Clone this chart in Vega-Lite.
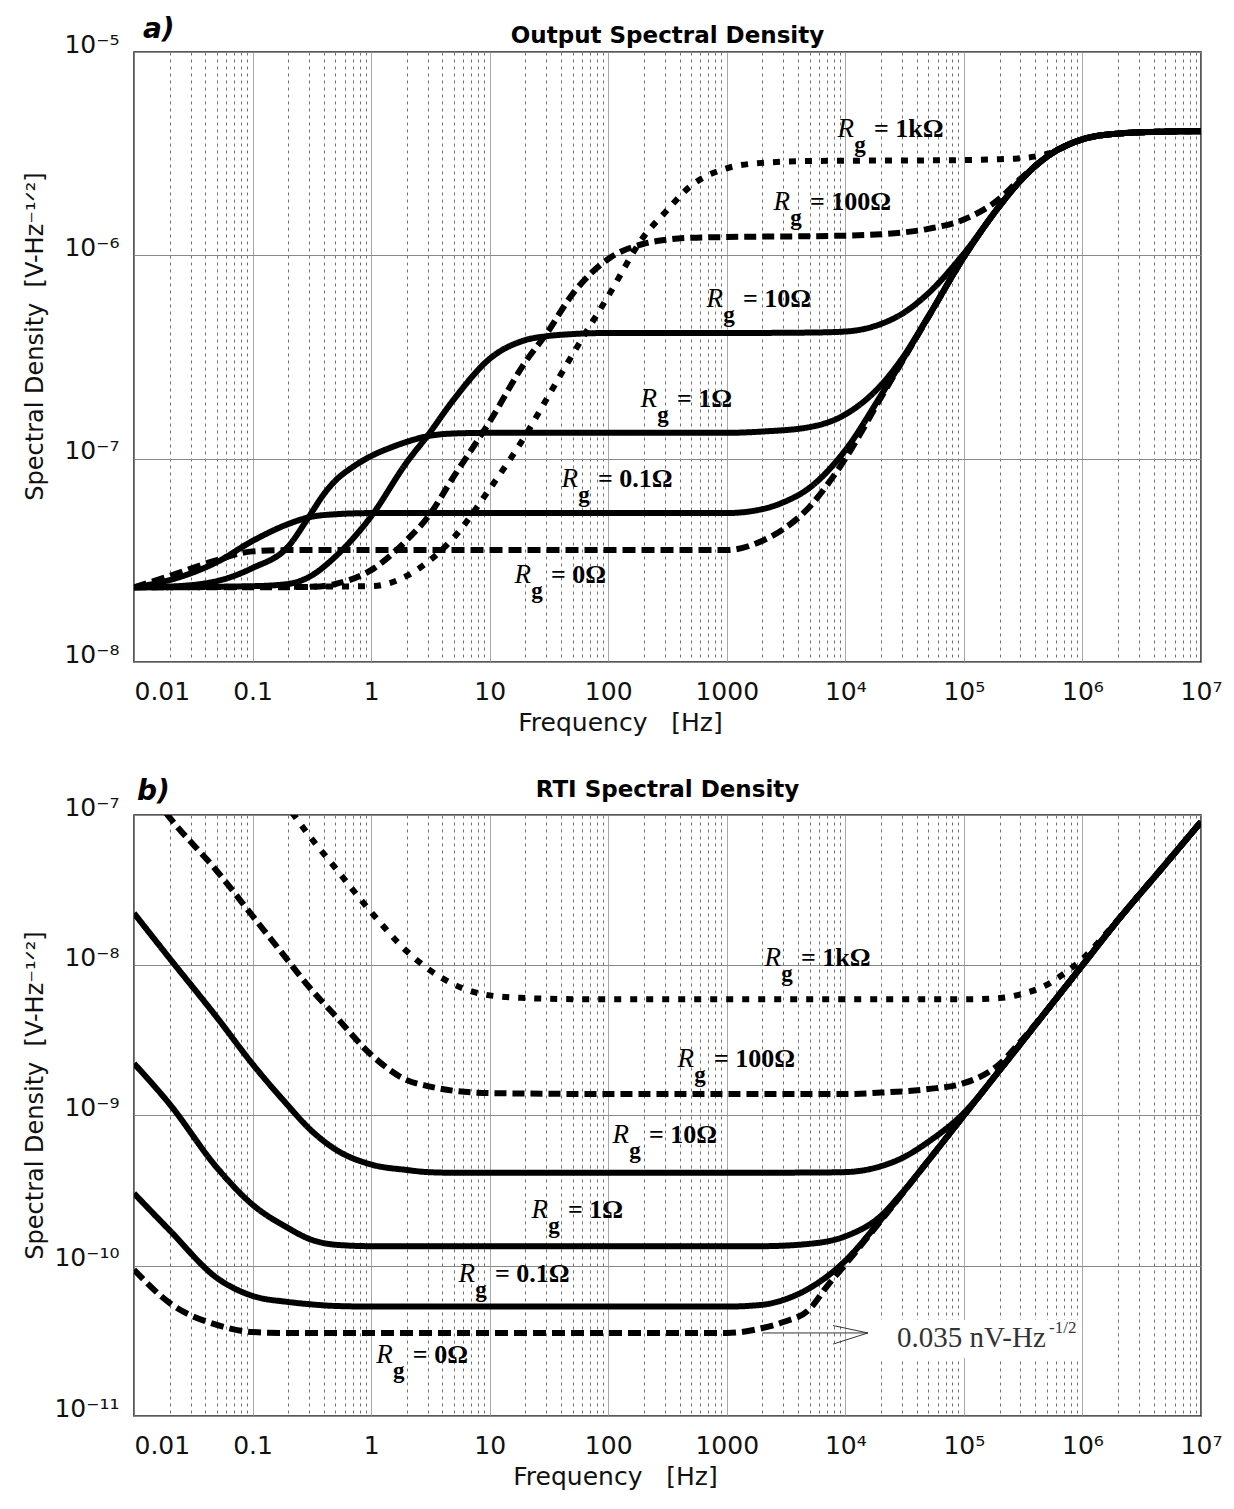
{
  "$schema": "https://vega.github.io/schema/vega-lite/v6.json",
  "background": "white",
  "padding": {"left": 22, "top": 15, "right": 10, "bottom": 5},
  "spacing": 41,
  "datasets": {
    "curves": [
      {"p":"a","rg":"0","f":0.01,"v":2.33e-8},{"p":"a","rg":"0","f":0.02,"v":2.65e-8},{"p":"a","rg":"0","f":0.05,"v":3.17e-8},{"p":"a","rg":"0","f":0.1,"v":3.5e-8},{"p":"a","rg":"0","f":0.2,"v":3.55e-8},{"p":"a","rg":"0","f":1,"v":3.55e-8},{"p":"a","rg":"0","f":10,"v":3.55e-8},{"p":"a","rg":"0","f":100,"v":3.55e-8},{"p":"a","rg":"0","f":1000,"v":3.55e-8},{"p":"a","rg":"0","f":2000,"v":3.95e-8},{"p":"a","rg":"0","f":3000,"v":4.5e-8},{"p":"a","rg":"0","f":5000,"v":5.8e-8},{"p":"a","rg":"0","f":7000,"v":7.4e-8},{"p":"a","rg":"0","f":10000,"v":1.0e-7},{"p":"a","rg":"0","f":20000,"v":2.0e-7},{"p":"a","rg":"0","f":50000,"v":4.95e-7},{"p":"a","rg":"0","f":100000,"v":9.8e-7},{"p":"a","rg":"0","f":200000,"v":1.75e-6},{"p":"a","rg":"0","f":300000,"v":2.33e-6},{"p":"a","rg":"0","f":500000,"v":3.05e-6},{"p":"a","rg":"0","f":1000000,"v":3.72e-6},{"p":"a","rg":"0","f":2000000,"v":3.97e-6},{"p":"a","rg":"0","f":5000000,"v":4.06e-6},{"p":"a","rg":"0","f":10000000,"v":4.08e-6},

      {"p":"a","rg":"0.1","f":0.01,"v":2.33e-8},{"p":"a","rg":"0.1","f":0.02,"v":2.53e-8},{"p":"a","rg":"0.1","f":0.05,"v":3.1e-8},{"p":"a","rg":"0.1","f":0.1,"v":3.94e-8},{"p":"a","rg":"0.1","f":0.2,"v":4.77e-8},{"p":"a","rg":"0.1","f":0.3,"v":5.15e-8},{"p":"a","rg":"0.1","f":0.5,"v":5.33e-8},{"p":"a","rg":"0.1","f":1,"v":5.4e-8},{"p":"a","rg":"0.1","f":10,"v":5.4e-8},{"p":"a","rg":"0.1","f":100,"v":5.4e-8},{"p":"a","rg":"0.1","f":1000,"v":5.4e-8},{"p":"a","rg":"0.1","f":2000,"v":5.65e-8},{"p":"a","rg":"0.1","f":3000,"v":6.1e-8},{"p":"a","rg":"0.1","f":5000,"v":7.2e-8},{"p":"a","rg":"0.1","f":10000,"v":1.1e-7},{"p":"a","rg":"0.1","f":20000,"v":2.05e-7},{"p":"a","rg":"0.1","f":50000,"v":4.97e-7},{"p":"a","rg":"0.1","f":100000,"v":9.8e-7},{"p":"a","rg":"0.1","f":200000,"v":1.75e-6},{"p":"a","rg":"0.1","f":300000,"v":2.33e-6},{"p":"a","rg":"0.1","f":500000,"v":3.05e-6},{"p":"a","rg":"0.1","f":1000000,"v":3.72e-6},{"p":"a","rg":"0.1","f":2000000,"v":3.97e-6},{"p":"a","rg":"0.1","f":5000000,"v":4.06e-6},{"p":"a","rg":"0.1","f":10000000,"v":4.08e-6},

      {"p":"a","rg":"1","f":0.01,"v":2.33e-8},{"p":"a","rg":"1","f":0.02,"v":2.35e-8},{"p":"a","rg":"1","f":0.05,"v":2.5e-8},{"p":"a","rg":"1","f":0.1,"v":2.9e-8},{"p":"a","rg":"1","f":0.2,"v":3.7e-8},{"p":"a","rg":"1","f":0.3,"v":5.2e-8},{"p":"a","rg":"1","f":0.4,"v":6.7e-8},{"p":"a","rg":"1","f":0.5,"v":7.8e-8},{"p":"a","rg":"1","f":0.7,"v":9.1e-8},{"p":"a","rg":"1","f":1,"v":1.03e-7},{"p":"a","rg":"1","f":1.5,"v":1.14e-7},{"p":"a","rg":"1","f":2,"v":1.21e-7},{"p":"a","rg":"1","f":3,"v":1.29e-7},{"p":"a","rg":"1","f":5,"v":1.33e-7},{"p":"a","rg":"1","f":10,"v":1.34e-7},{"p":"a","rg":"1","f":100,"v":1.34e-7},{"p":"a","rg":"1","f":1000,"v":1.34e-7},{"p":"a","rg":"1","f":2000,"v":1.36e-7},{"p":"a","rg":"1","f":5000,"v":1.43e-7},{"p":"a","rg":"1","f":10000,"v":1.65e-7},{"p":"a","rg":"1","f":20000,"v":2.3e-7},{"p":"a","rg":"1","f":30000,"v":3.1e-7},{"p":"a","rg":"1","f":50000,"v":5.0e-7},{"p":"a","rg":"1","f":100000,"v":9.8e-7},{"p":"a","rg":"1","f":200000,"v":1.75e-6},{"p":"a","rg":"1","f":300000,"v":2.33e-6},{"p":"a","rg":"1","f":500000,"v":3.05e-6},{"p":"a","rg":"1","f":1000000,"v":3.72e-6},{"p":"a","rg":"1","f":2000000,"v":3.97e-6},{"p":"a","rg":"1","f":5000000,"v":4.06e-6},{"p":"a","rg":"1","f":10000000,"v":4.08e-6},

      {"p":"a","rg":"10","f":0.01,"v":2.33e-8},{"p":"a","rg":"10","f":0.1,"v":2.36e-8},{"p":"a","rg":"10","f":0.2,"v":2.42e-8},{"p":"a","rg":"10","f":0.3,"v":2.62e-8},{"p":"a","rg":"10","f":0.5,"v":3.3e-8},{"p":"a","rg":"10","f":1,"v":5.2e-8},{"p":"a","rg":"10","f":2,"v":9.6e-8},{"p":"a","rg":"10","f":3,"v":1.3e-7},{"p":"a","rg":"10","f":5,"v":1.96e-7},{"p":"a","rg":"10","f":10,"v":3.1e-7},{"p":"a","rg":"10","f":20,"v":3.83e-7},{"p":"a","rg":"10","f":30,"v":4.0e-7},{"p":"a","rg":"10","f":50,"v":4.1e-7},{"p":"a","rg":"10","f":100,"v":4.15e-7},{"p":"a","rg":"10","f":1000,"v":4.15e-7},{"p":"a","rg":"10","f":5000,"v":4.17e-7},{"p":"a","rg":"10","f":10000,"v":4.22e-7},{"p":"a","rg":"10","f":20000,"v":4.6e-7},{"p":"a","rg":"10","f":30000,"v":5.15e-7},{"p":"a","rg":"10","f":50000,"v":6.5e-7},{"p":"a","rg":"10","f":100000,"v":1.02e-6},{"p":"a","rg":"10","f":200000,"v":1.75e-6},{"p":"a","rg":"10","f":300000,"v":2.33e-6},{"p":"a","rg":"10","f":500000,"v":3.05e-6},{"p":"a","rg":"10","f":1000000,"v":3.72e-6},{"p":"a","rg":"10","f":2000000,"v":3.97e-6},{"p":"a","rg":"10","f":5000000,"v":4.06e-6},{"p":"a","rg":"10","f":10000000,"v":4.08e-6},

      {"p":"a","rg":"100","f":0.01,"v":2.33e-8},{"p":"a","rg":"100","f":0.1,"v":2.33e-8},{"p":"a","rg":"100","f":0.3,"v":2.34e-8},{"p":"a","rg":"100","f":0.5,"v":2.42e-8},{"p":"a","rg":"100","f":1,"v":2.83e-8},{"p":"a","rg":"100","f":2,"v":3.98e-8},{"p":"a","rg":"100","f":3,"v":5.15e-8},{"p":"a","rg":"100","f":5,"v":8.2e-8},{"p":"a","rg":"100","f":10,"v":1.52e-7},{"p":"a","rg":"100","f":20,"v":2.99e-7},{"p":"a","rg":"100","f":30,"v":4.1e-7},{"p":"a","rg":"100","f":50,"v":6.45e-7},{"p":"a","rg":"100","f":100,"v":9.6e-7},{"p":"a","rg":"100","f":200,"v":1.14e-6},{"p":"a","rg":"100","f":300,"v":1.19e-6},{"p":"a","rg":"100","f":500,"v":1.22e-6},{"p":"a","rg":"100","f":1000,"v":1.23e-6},{"p":"a","rg":"100","f":10000,"v":1.25e-6},{"p":"a","rg":"100","f":20000,"v":1.27e-6},{"p":"a","rg":"100","f":50000,"v":1.35e-6},{"p":"a","rg":"100","f":100000,"v":1.5e-6},{"p":"a","rg":"100","f":200000,"v":1.9e-6},{"p":"a","rg":"100","f":300000,"v":2.38e-6},{"p":"a","rg":"100","f":500000,"v":3.05e-6},{"p":"a","rg":"100","f":1000000,"v":3.72e-6},{"p":"a","rg":"100","f":2000000,"v":3.97e-6},{"p":"a","rg":"100","f":5000000,"v":4.06e-6},{"p":"a","rg":"100","f":10000000,"v":4.08e-6},

      {"p":"a","rg":"1k","f":0.01,"v":2.33e-8},{"p":"a","rg":"1k","f":1,"v":2.36e-8},{"p":"a","rg":"1k","f":2,"v":2.65e-8},{"p":"a","rg":"1k","f":3,"v":3.1e-8},{"p":"a","rg":"1k","f":5,"v":4.1e-8},{"p":"a","rg":"1k","f":10,"v":7.1e-8},{"p":"a","rg":"1k","f":20,"v":1.3e-7},{"p":"a","rg":"1k","f":30,"v":1.95e-7},{"p":"a","rg":"1k","f":50,"v":3.25e-7},{"p":"a","rg":"1k","f":100,"v":6.3e-7},{"p":"a","rg":"1k","f":200,"v":1.24e-6},{"p":"a","rg":"1k","f":300,"v":1.62e-6},{"p":"a","rg":"1k","f":500,"v":2.2e-6},{"p":"a","rg":"1k","f":1000,"v":2.68e-6},{"p":"a","rg":"1k","f":2000,"v":2.85e-6},{"p":"a","rg":"1k","f":5000,"v":2.91e-6},{"p":"a","rg":"1k","f":100000,"v":2.94e-6},{"p":"a","rg":"1k","f":200000,"v":2.97e-6},{"p":"a","rg":"1k","f":300000,"v":3.0e-6},{"p":"a","rg":"1k","f":500000,"v":3.15e-6},{"p":"a","rg":"1k","f":1000000,"v":3.72e-6},{"p":"a","rg":"1k","f":2000000,"v":3.97e-6},{"p":"a","rg":"1k","f":5000000,"v":4.06e-6},{"p":"a","rg":"1k","f":10000000,"v":4.08e-6},

      {"p":"b","rg":"0","f":0.01,"v":9.4e-11},{"p":"b","rg":"0","f":0.02,"v":5.65e-11},{"p":"b","rg":"0","f":0.05,"v":4.04e-11},{"p":"b","rg":"0","f":0.1,"v":3.62e-11},{"p":"b","rg":"0","f":0.2,"v":3.57e-11},{"p":"b","rg":"0","f":1,"v":3.57e-11},{"p":"b","rg":"0","f":100,"v":3.57e-11},{"p":"b","rg":"0","f":1000,"v":3.57e-11},{"p":"b","rg":"0","f":2000,"v":3.85e-11},{"p":"b","rg":"0","f":3000,"v":4.22e-11},{"p":"b","rg":"0","f":5000,"v":5.15e-11},{"p":"b","rg":"0","f":7000,"v":7.3e-11},{"p":"b","rg":"0","f":10000,"v":1.02e-10},{"p":"b","rg":"0","f":20000,"v":2.0e-10},{"p":"b","rg":"0","f":50000,"v":5.0e-10},{"p":"b","rg":"0","f":100000,"v":1.0e-9},{"p":"b","rg":"0","f":200000,"v":2.0e-9},{"p":"b","rg":"0","f":500000,"v":5.0e-9},{"p":"b","rg":"0","f":1000000,"v":1.0e-8},{"p":"b","rg":"0","f":2000000,"v":2.0e-8},{"p":"b","rg":"0","f":5000000,"v":4.7e-8},{"p":"b","rg":"0","f":10000000,"v":9.0e-8},

      {"p":"b","rg":"0.1","f":0.01,"v":3.03e-10},{"p":"b","rg":"0.1","f":0.02,"v":1.72e-10},{"p":"b","rg":"0.1","f":0.05,"v":8.3e-11},{"p":"b","rg":"0.1","f":0.1,"v":6.3e-11},{"p":"b","rg":"0.1","f":0.2,"v":5.74e-11},{"p":"b","rg":"0.1","f":0.3,"v":5.55e-11},{"p":"b","rg":"0.1","f":0.5,"v":5.4e-11},{"p":"b","rg":"0.1","f":1,"v":5.35e-11},{"p":"b","rg":"0.1","f":1000,"v":5.35e-11},{"p":"b","rg":"0.1","f":2000,"v":5.5e-11},{"p":"b","rg":"0.1","f":3000,"v":5.92e-11},{"p":"b","rg":"0.1","f":5000,"v":7.1e-11},{"p":"b","rg":"0.1","f":10000,"v":1.08e-10},{"p":"b","rg":"0.1","f":20000,"v":2.03e-10},{"p":"b","rg":"0.1","f":50000,"v":5.0e-10},{"p":"b","rg":"0.1","f":100000,"v":1.0e-9},{"p":"b","rg":"0.1","f":200000,"v":2.0e-9},{"p":"b","rg":"0.1","f":500000,"v":5.0e-9},{"p":"b","rg":"0.1","f":1000000,"v":1.0e-8},{"p":"b","rg":"0.1","f":2000000,"v":2.0e-8},{"p":"b","rg":"0.1","f":5000000,"v":4.7e-8},{"p":"b","rg":"0.1","f":10000000,"v":9.0e-8},

      {"p":"b","rg":"1","f":0.01,"v":2.22e-9},{"p":"b","rg":"1","f":0.02,"v":1.19e-9},{"p":"b","rg":"1","f":0.05,"v":4.5e-10},{"p":"b","rg":"1","f":0.1,"v":2.55e-10},{"p":"b","rg":"1","f":0.2,"v":1.78e-10},{"p":"b","rg":"1","f":0.3,"v":1.51e-10},{"p":"b","rg":"1","f":0.5,"v":1.38e-10},{"p":"b","rg":"1","f":1,"v":1.35e-10},{"p":"b","rg":"1","f":1000,"v":1.35e-10},{"p":"b","rg":"1","f":2000,"v":1.35e-10},{"p":"b","rg":"1","f":5000,"v":1.4e-10},{"p":"b","rg":"1","f":10000,"v":1.57e-10},{"p":"b","rg":"1","f":20000,"v":2.15e-10},{"p":"b","rg":"1","f":30000,"v":3.05e-10},{"p":"b","rg":"1","f":50000,"v":5.0e-10},{"p":"b","rg":"1","f":100000,"v":1.0e-9},{"p":"b","rg":"1","f":200000,"v":2.0e-9},{"p":"b","rg":"1","f":500000,"v":5.0e-9},{"p":"b","rg":"1","f":1000000,"v":1.0e-8},{"p":"b","rg":"1","f":2000000,"v":2.0e-8},{"p":"b","rg":"1","f":5000000,"v":4.7e-8},{"p":"b","rg":"1","f":10000000,"v":9.0e-8},

      {"p":"b","rg":"10","f":0.01,"v":2.22e-8},{"p":"b","rg":"10","f":0.02,"v":1.11e-8},{"p":"b","rg":"10","f":0.05,"v":4.5e-9},{"p":"b","rg":"10","f":0.1,"v":2.2e-9},{"p":"b","rg":"10","f":0.2,"v":1.16e-9},{"p":"b","rg":"10","f":0.3,"v":8.2e-10},{"p":"b","rg":"10","f":0.5,"v":5.95e-10},{"p":"b","rg":"10","f":1,"v":4.72e-10},{"p":"b","rg":"10","f":2,"v":4.34e-10},{"p":"b","rg":"10","f":3,"v":4.2e-10},{"p":"b","rg":"10","f":5,"v":4.16e-10},{"p":"b","rg":"10","f":1000,"v":4.16e-10},{"p":"b","rg":"10","f":5000,"v":4.17e-10},{"p":"b","rg":"10","f":10000,"v":4.2e-10},{"p":"b","rg":"10","f":20000,"v":4.6e-10},{"p":"b","rg":"10","f":30000,"v":5.2e-10},{"p":"b","rg":"10","f":50000,"v":6.67e-10},{"p":"b","rg":"10","f":100000,"v":1.04e-9},{"p":"b","rg":"10","f":200000,"v":2.0e-9},{"p":"b","rg":"10","f":500000,"v":5.0e-9},{"p":"b","rg":"10","f":1000000,"v":1.0e-8},{"p":"b","rg":"10","f":2000000,"v":2.0e-8},{"p":"b","rg":"10","f":5000000,"v":4.7e-8},{"p":"b","rg":"10","f":10000000,"v":9.0e-8},

      {"p":"b","rg":"100","f":0.01,"v":2.0e-7},{"p":"b","rg":"100","f":0.02,"v":9.6e-8},{"p":"b","rg":"100","f":0.05,"v":4.24e-8},{"p":"b","rg":"100","f":0.1,"v":2.13e-8},{"p":"b","rg":"100","f":0.2,"v":1.07e-8},{"p":"b","rg":"100","f":0.3,"v":7.16e-9},{"p":"b","rg":"100","f":0.5,"v":4.6e-9},{"p":"b","rg":"100","f":1,"v":2.54e-9},{"p":"b","rg":"100","f":2,"v":1.72e-9},{"p":"b","rg":"100","f":3,"v":1.57e-9},{"p":"b","rg":"100","f":5,"v":1.46e-9},{"p":"b","rg":"100","f":10,"v":1.41e-9},{"p":"b","rg":"100","f":100,"v":1.39e-9},{"p":"b","rg":"100","f":10000,"v":1.39e-9},{"p":"b","rg":"100","f":20000,"v":1.42e-9},{"p":"b","rg":"100","f":50000,"v":1.5e-9},{"p":"b","rg":"100","f":100000,"v":1.64e-9},{"p":"b","rg":"100","f":200000,"v":2.2e-9},{"p":"b","rg":"100","f":300000,"v":3.1e-9},{"p":"b","rg":"100","f":500000,"v":5.0e-9},{"p":"b","rg":"100","f":1000000,"v":1.0e-8},{"p":"b","rg":"100","f":2000000,"v":2.0e-8},{"p":"b","rg":"100","f":5000000,"v":4.7e-8},{"p":"b","rg":"100","f":10000000,"v":9.0e-8},

      {"p":"b","rg":"1k","f":0.1,"v":2.24e-7},{"p":"b","rg":"1k","f":0.2,"v":1.12e-7},{"p":"b","rg":"1k","f":0.3,"v":7.3e-8},{"p":"b","rg":"1k","f":0.5,"v":4.44e-8},{"p":"b","rg":"1k","f":1,"v":2.26e-8},{"p":"b","rg":"1k","f":2,"v":1.24e-8},{"p":"b","rg":"1k","f":3,"v":9.5e-9},{"p":"b","rg":"1k","f":5,"v":7.45e-9},{"p":"b","rg":"1k","f":10,"v":6.3e-9},{"p":"b","rg":"1k","f":20,"v":6.05e-9},{"p":"b","rg":"1k","f":50,"v":5.95e-9},{"p":"b","rg":"1k","f":100,"v":5.93e-9},{"p":"b","rg":"1k","f":100000,"v":5.93e-9},{"p":"b","rg":"1k","f":200000,"v":6.05e-9},{"p":"b","rg":"1k","f":300000,"v":6.4e-9},{"p":"b","rg":"1k","f":500000,"v":7.4e-9},{"p":"b","rg":"1k","f":700000,"v":8.8e-9},{"p":"b","rg":"1k","f":1000000,"v":1.1e-8},{"p":"b","rg":"1k","f":1500000,"v":1.55e-8},{"p":"b","rg":"1k","f":2000000,"v":2.02e-8},{"p":"b","rg":"1k","f":5000000,"v":4.7e-8},{"p":"b","rg":"1k","f":10000000,"v":9.0e-8}
    ],
    "labels": [
      {"p":"a","f":17460,"v":3.82e-6,"t":"= 1kΩ"},
      {"p":"a","f":5035,"v":1.67e-6,"t":"= 100Ω"},
      {"p":"a","f":1370,"v":5.57e-7,"t":"= 10Ω"},
      {"p":"a","f":380,"v":1.79e-7,"t":"= 1Ω"},
      {"p":"a","f":82,"v":7.25e-8,"t":"= 0.1Ω"},
      {"p":"a","f":32.9,"v":2.44e-8,"t":"= 0Ω"},
      {"p":"b","f":4227,"v":9.89e-9,"t":"= 1kΩ"},
      {"p":"b","f":780,"v":2.1e-9,"t":"= 100Ω"},
      {"p":"b","f":221,"v":6.56e-10,"t":"= 10Ω"},
      {"p":"b","f":45.8,"v":2.08e-10,"t":"= 1Ω"},
      {"p":"b","f":11.1,"v":7.8e-11,"t":"= 0.1Ω"},
      {"p":"b","f":2.25,"v":2.25e-11,"t":"= 0Ω"}
    ],
    "tags": [
      {"p":"a","f":0.0119,"v":1.17e-5,"t":"a)"},
      {"p":"b","f":0.0106,"v":1.26e-7,"t":"b)"}
    ],
    "heads": [
      {"p":"a","f":316.2,"v":1.107e-5,"t":"Output Spectral Density"},
      {"p":"b","f":316.2,"v":1.318e-7,"t":"RTI Spectral Density"}
    ],
    "note": [
      {"f":27290,"v":2.88e-11,"t":"0.035 nV-Hz","s":"-1/2"}
    ],
    "notebox": [
      {"f":19600,"v":4.35e-11,"f2":970000,"v2":2.43e-11}
    ],
    "arrow": [
      {"f":2000,"v":3.57e-11,"f2":15520,"v2":3.57e-11},
      {"f":7870,"v":4.0e-11,"f2":15520,"v2":3.57e-11},
      {"f":7870,"v":3.01e-11,"f2":15520,"v2":3.57e-11}
    ]
  },
  "vconcat": [
    {
      "width": 1067,
      "height": 610,
      "layer": [
        {
          "data": {"name": "curves"},
          "transform": [{"filter": "datum.p == 'a'"}],
          "mark": {"type": "line", "clip": true, "interpolate": "monotone", "strokeWidth": 6, "color": "black"},
          "encoding": {
            "x": {
              "field": "f", "type": "quantitative",
              "scale": {"type": "log", "domain": [0.01, 10000000], "nice": false},
              "axis": {
                "values": [0.01,0.02,0.03,0.04,0.05,0.06,0.07,0.08,0.09,0.1,0.2,0.3,0.4,0.5,0.6,0.7,0.8,0.9,1,2,3,4,5,6,7,8,9,10,20,30,40,50,60,70,80,90,100,200,300,400,500,600,700,800,900,1000,2000,3000,4000,5000,6000,7000,8000,9000,10000,20000,30000,40000,50000,60000,70000,80000,90000,100000,200000,300000,400000,500000,600000,700000,800000,900000,1000000,2000000,3000000,4000000,5000000,6000000,7000000,8000000,9000000,10000000],
                "labelExpr": "abs(log(datum.value)/LN10 - round(log(datum.value)/LN10)) > 0.01 ? '' : ['0.01','0.1','1','10','100','1000','10⁴','10⁵','10⁶','10⁷'][round(log(datum.value)/LN10) + 2]",
                "labelFlush": false,
                "labelAlign": {"condition": {"test": "datum.value < 0.011", "value": "left"}, "value": "center"},
                "labelBaseline": "top",
                "labelPadding": 17,
                "title": "Frequency\u00a0\u00a0\u00a0[Hz]",
                "titleX": 486,
                "titlePadding": 6,
                "gridColor": {"condition": {"test": "abs(log(datum.value)/LN10 - round(log(datum.value)/LN10)) < 0.01", "value": "#8a8a8a"}, "value": "#707070"},
                "gridDash": {"condition": {"test": "abs(log(datum.value)/LN10 - round(log(datum.value)/LN10)) < 0.01", "value": [1, 0]}, "value": [3, 4]}
              }
            },
            "y": {
              "field": "v", "type": "quantitative",
              "scale": {"type": "log", "domain": [1e-8, 1e-5], "nice": false},
              "axis": {
                "values": [1e-8, 1e-7, 1e-6, 1e-5],
                "labelExpr": "'10' + ['⁻¹¹','⁻¹⁰','⁻⁹','⁻⁸','⁻⁷','⁻⁶','⁻⁵'][round(log(datum.value)/LN10) + 11]",
                "labelBaseline": "alphabetic",
                "labelFlush": false,
                "labelPadding": 15,
                "title": "Spectral Density\u00a0\u00a0[V-Hz⁻¹ᐟ²]",
                "titleFontSize": 24,
                "titleX": -87,
                "titleY": 284,
                "gridColor": "#8a8a8a"
              }
            },
            "strokeDash": {
              "field": "rg", "type": "nominal",
              "scale": {"domain": ["0", "0.1", "1", "10", "100", "1k"], "range": [[13, 6], [1, 0], [1, 0], [1, 0], [12, 6], [7, 9]]},
              "legend": null
            }
          }
        },
        {
          "data": {"name": "labels"},
          "transform": [{"filter": "datum.p == 'a'"}],
          "mark": {"type": "text", "text": "R", "font": "Liberation Serif", "fontStyle": "italic", "fontSize": 27, "align": "right", "baseline": "alphabetic", "dx": -20},
          "encoding": {"x": {"field": "f", "type": "quantitative"}, "y": {"field": "v", "type": "quantitative"}}
        },
        {
          "data": {"name": "labels"},
          "transform": [{"filter": "datum.p == 'a'"}],
          "mark": {"type": "text", "text": "g", "font": "Liberation Serif", "fontWeight": "bold", "fontSize": 23, "align": "center", "baseline": "alphabetic", "dx": -14, "dy": 15},
          "encoding": {"x": {"field": "f", "type": "quantitative"}, "y": {"field": "v", "type": "quantitative"}}
        },
        {
          "data": {"name": "labels"},
          "transform": [{"filter": "datum.p == 'a'"}],
          "mark": {"type": "text", "font": "Liberation Serif", "fontWeight": "bold", "fontSize": 26, "align": "left", "baseline": "alphabetic"},
          "encoding": {"x": {"field": "f", "type": "quantitative"}, "y": {"field": "v", "type": "quantitative"}, "text": {"field": "t"}}
        },
        {
          "data": {"name": "tags"},
          "transform": [{"filter": "datum.p == 'a'"}],
          "mark": {"type": "text", "font": "DejaVu Sans", "fontWeight": "bold", "fontStyle": "italic", "fontSize": 28, "align": "left", "baseline": "alphabetic"},
          "encoding": {"x": {"field": "f", "type": "quantitative"}, "y": {"field": "v", "type": "quantitative"}, "text": {"field": "t"}}
        },
        {
          "data": {"name": "heads"},
          "transform": [{"filter": "datum.p == 'a'"}],
          "mark": {"type": "text", "font": "DejaVu Sans", "fontWeight": "bold", "fontSize": 23, "align": "center", "baseline": "alphabetic"},
          "encoding": {"x": {"field": "f", "type": "quantitative"}, "y": {"field": "v", "type": "quantitative"}, "text": {"field": "t"}}
        }
      ]
    },
    {
      "width": 1067,
      "height": 601,
      "layer": [
        {
          "data": {"name": "curves"},
          "transform": [{"filter": "datum.p == 'b'"}],
          "mark": {"type": "line", "clip": true, "interpolate": "monotone", "strokeWidth": 6, "color": "black"},
          "encoding": {
            "x": {
              "field": "f", "type": "quantitative",
              "scale": {"type": "log", "domain": [0.01, 10000000], "nice": false},
              "axis": {
                "values": [0.01,0.02,0.03,0.04,0.05,0.06,0.07,0.08,0.09,0.1,0.2,0.3,0.4,0.5,0.6,0.7,0.8,0.9,1,2,3,4,5,6,7,8,9,10,20,30,40,50,60,70,80,90,100,200,300,400,500,600,700,800,900,1000,2000,3000,4000,5000,6000,7000,8000,9000,10000,20000,30000,40000,50000,60000,70000,80000,90000,100000,200000,300000,400000,500000,600000,700000,800000,900000,1000000,2000000,3000000,4000000,5000000,6000000,7000000,8000000,9000000,10000000],
                "labelExpr": "abs(log(datum.value)/LN10 - round(log(datum.value)/LN10)) > 0.01 ? '' : ['0.01','0.1','1','10','100','1000','10⁴','10⁵','10⁶','10⁷'][round(log(datum.value)/LN10) + 2]",
                "labelFlush": false,
                "labelAlign": {"condition": {"test": "datum.value < 0.011", "value": "left"}, "value": "center"},
                "labelBaseline": "top",
                "labelPadding": 17,
                "title": "Frequency\u00a0\u00a0\u00a0[Hz]",
                "titleX": 481,
                "titlePadding": 6,
                "gridColor": {"condition": {"test": "abs(log(datum.value)/LN10 - round(log(datum.value)/LN10)) < 0.01", "value": "#8a8a8a"}, "value": "#707070"},
                "gridDash": {"condition": {"test": "abs(log(datum.value)/LN10 - round(log(datum.value)/LN10)) < 0.01", "value": [1, 0]}, "value": [3, 4]}
              }
            },
            "y": {
              "field": "v", "type": "quantitative",
              "scale": {"type": "log", "domain": [1e-11, 1e-7], "nice": false},
              "axis": {
                "values": [1e-11, 1e-10, 1e-9, 1e-8, 1e-7],
                "labelExpr": "'10' + ['⁻¹¹','⁻¹⁰','⁻⁹','⁻⁸','⁻⁷','⁻⁶','⁻⁵'][round(log(datum.value)/LN10) + 11]",
                "labelBaseline": "alphabetic",
                "labelFlush": false,
                "labelPadding": 15,
                "title": "Spectral Density\u00a0\u00a0[V-Hz⁻¹ᐟ²]",
                "titleFontSize": 24,
                "titleX": -87,
                "titleY": 280,
                "gridColor": "#8a8a8a"
              }
            },
            "strokeDash": {
              "field": "rg", "type": "nominal",
              "scale": {"domain": ["0", "0.1", "1", "10", "100", "1k"], "range": [[13, 6], [1, 0], [1, 0], [1, 0], [12, 6], [7, 9]]},
              "legend": null
            }
          }
        },
        {
          "data": {"name": "notebox"},
          "mark": {"type": "rect", "color": "white"},
          "encoding": {"x": {"field": "f", "type": "quantitative"}, "x2": {"field": "f2"}, "y": {"field": "v", "type": "quantitative"}, "y2": {"field": "v2"}}
        },
        {
          "data": {"name": "arrow"},
          "mark": {"type": "rule", "color": "#333333", "strokeWidth": 1},
          "encoding": {"x": {"field": "f", "type": "quantitative"}, "x2": {"field": "f2"}, "y": {"field": "v", "type": "quantitative"}, "y2": {"field": "v2"}}
        },
        {
          "data": {"name": "note"},
          "mark": {"type": "text", "font": "Liberation Serif", "fontSize": 29, "color": "#333333", "align": "left", "baseline": "alphabetic"},
          "encoding": {"x": {"field": "f", "type": "quantitative"}, "y": {"field": "v", "type": "quantitative"}, "text": {"field": "t"}}
        },
        {
          "data": {"name": "note"},
          "mark": {"type": "text", "font": "Liberation Serif", "fontSize": 17, "color": "#333333", "align": "left", "baseline": "alphabetic", "dx": 152, "dy": -14},
          "encoding": {"x": {"field": "f", "type": "quantitative"}, "y": {"field": "v", "type": "quantitative"}, "text": {"field": "s"}}
        },
        {
          "data": {"name": "labels"},
          "transform": [{"filter": "datum.p == 'b'"}],
          "mark": {"type": "text", "text": "R", "font": "Liberation Serif", "fontStyle": "italic", "fontSize": 27, "align": "right", "baseline": "alphabetic", "dx": -20},
          "encoding": {"x": {"field": "f", "type": "quantitative"}, "y": {"field": "v", "type": "quantitative"}}
        },
        {
          "data": {"name": "labels"},
          "transform": [{"filter": "datum.p == 'b'"}],
          "mark": {"type": "text", "text": "g", "font": "Liberation Serif", "fontWeight": "bold", "fontSize": 23, "align": "center", "baseline": "alphabetic", "dx": -14, "dy": 15},
          "encoding": {"x": {"field": "f", "type": "quantitative"}, "y": {"field": "v", "type": "quantitative"}}
        },
        {
          "data": {"name": "labels"},
          "transform": [{"filter": "datum.p == 'b'"}],
          "mark": {"type": "text", "font": "Liberation Serif", "fontWeight": "bold", "fontSize": 26, "align": "left", "baseline": "alphabetic"},
          "encoding": {"x": {"field": "f", "type": "quantitative"}, "y": {"field": "v", "type": "quantitative"}, "text": {"field": "t"}}
        },
        {
          "data": {"name": "tags"},
          "transform": [{"filter": "datum.p == 'b'"}],
          "mark": {"type": "text", "font": "DejaVu Sans", "fontWeight": "bold", "fontStyle": "italic", "fontSize": 28, "align": "left", "baseline": "alphabetic"},
          "encoding": {"x": {"field": "f", "type": "quantitative"}, "y": {"field": "v", "type": "quantitative"}, "text": {"field": "t"}}
        },
        {
          "data": {"name": "heads"},
          "transform": [{"filter": "datum.p == 'b'"}],
          "mark": {"type": "text", "font": "DejaVu Sans", "fontWeight": "bold", "fontSize": 23, "align": "center", "baseline": "alphabetic"},
          "encoding": {"x": {"field": "f", "type": "quantitative"}, "y": {"field": "v", "type": "quantitative"}, "text": {"field": "t"}}
        }
      ]
    }
  ],
  "config": {
    "view": {"stroke": "#222222", "strokeWidth": 1.5},
    "axis": {
      "domain": false,
      "ticks": false,
      "labelFont": "DejaVu Sans",
      "labelFontSize": 25,
      "labelColor": "#111111",
      "labelOverlap": false,
      "titleFont": "DejaVu Sans",
      "titleFontSize": 25,
      "titleFontWeight": "normal",
      "titleColor": "#111111",
      "gridWidth": 1
    },
    "text": {"color": "black"}
  }
}
